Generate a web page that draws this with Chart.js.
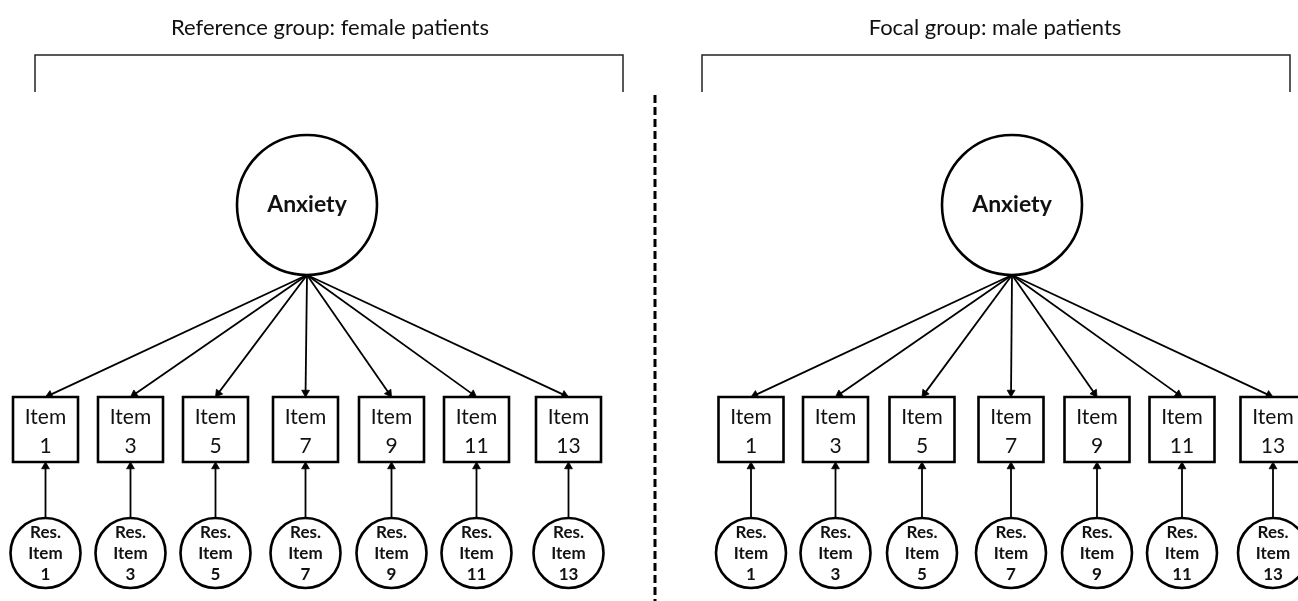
<!DOCTYPE html>
<html><head><meta charset="utf-8">
<script src="https://cdn.jsdelivr.net/npm/chart.js@4/dist/chart.umd.min.js"></script>
<style>html,body{margin:0;padding:0;background:#fff;overflow:hidden}#wrap{width:1298px;height:601px}</style>
</head><body><div id="wrap"><canvas id="c" width="1298" height="601"></canvas></div>
<script>
// ---- data ----
const groupTitles = ['Reference group: female patients', 'Focal group: male patients'];
const titleX = [330, 995];
const titleY = 28;
const latentLabel = 'Anxiety';
const latentX = [307, 1012];
const latentY = 205;
const itemNumbers = [1, 3, 5, 7, 9, 11, 13];
const itemXLeft = [45.5, 130.5, 215.5, 305.5, 391.5, 476.5, 568.5];
const itemXRight = [751, 835.5, 922, 1011, 1097, 1182, 1273];
const itemY = 429.5;
const residualY = 553;
const bracketLeftX = [35, 702];
const bracketRightX = [623, 1290];
const bracketTopY = 55;
const bracketBottomY = 92;
const dividerX = 655;
const dividerY = [95, 601];

// ---- sizes (pixels) ----
const LATENT_R = 70, BOX_HALF = 32.5, RES_R = 35, ARROW_R = 4.5;
const INK = '#000';

const itemX = [itemXLeft, itemXRight];
const datasets = [];

function edge(x1, y1, x2, y2) {
  const dx = x2 - x1, dy = y2 - y1, len = Math.hypot(dx, dy);
  const ux = dx / len, uy = dy / len;
  const rot = Math.atan2(dx, -dy) * 180 / Math.PI;
  datasets.push({
    type: 'scatter', showLine: true, order: 0,
    data: [{x: x1, y: y1}, {x: x2 - ux * ARROW_R, y: y2 - uy * ARROW_R}],
    borderColor: INK, borderWidth: 1.8,
    pointStyle: 'triangle', pointRadius: [0, ARROW_R], pointRotation: [0, rot],
    pointBackgroundColor: INK, pointBorderColor: INK, pointBorderWidth: 0.8
  });
}
for (let g = 0; g < 2; g++) {
  itemX[g].forEach(ix => {
    edge(latentX[g], latentY + LATENT_R, ix, itemY - BOX_HALF);
    edge(ix, residualY - RES_R, ix, itemY + BOX_HALF);
  });
  datasets.push({
    type: 'scatter', showLine: true, order: 2,
    data: [{x: bracketLeftX[g], y: bracketBottomY}, {x: bracketLeftX[g], y: bracketTopY},
           {x: bracketRightX[g], y: bracketTopY}, {x: bracketRightX[g], y: bracketBottomY}],
    borderColor: '#222', borderWidth: 1.5, pointRadius: 0
  });
}
datasets.push({
  type: 'scatter', showLine: true, order: 2,
  data: [{x: dividerX, y: dividerY[0]}, {x: dividerX, y: dividerY[1]}],
  borderColor: INK, borderWidth: 3, borderDash: [8, 4], pointRadius: 0
});
datasets.push({
  type: 'scatter', order: 1,
  data: latentX.map(x => ({x, y: latentY})),
  pointStyle: 'circle', pointRadius: LATENT_R, pointBorderWidth: 2.6,
  pointBorderColor: INK, pointBackgroundColor: '#fff'
});
datasets.push({
  type: 'scatter', order: 1,
  data: itemX.flat().map(x => ({x, y: itemY})),
  pointStyle: 'rect', pointRadius: BOX_HALF / Math.SQRT1_2, pointBorderWidth: 2.6,
  pointBorderColor: INK, pointBackgroundColor: '#fff'
});
datasets.push({
  type: 'scatter', order: 1,
  data: itemX.flat().map(x => ({x, y: residualY})),
  pointStyle: 'circle', pointRadius: RES_R, pointBorderWidth: 2.6,
  pointBorderColor: INK, pointBackgroundColor: '#fff'
});

const FONT = 'Lato, "Open Sans", sans-serif';
const textPlugin = {
  id: 'diagramText',
  afterDatasetsDraw(chart) {
    const {ctx, scales: {x, y}} = chart;
    ctx.save();
    ctx.fillStyle = '#111';
    ctx.textAlign = 'center';
    ctx.textBaseline = 'middle';
    for (let g = 0; g < 2; g++) {
      ctx.font = '22px ' + FONT;
      ctx.fillText(groupTitles[g], x.getPixelForValue(titleX[g]), y.getPixelForValue(titleY));
      ctx.font = 'bold 23px ' + FONT;
      ctx.fillText(latentLabel, x.getPixelForValue(latentX[g]), y.getPixelForValue(latentY));
      itemX[g].forEach((ix, i) => {
        const px = x.getPixelForValue(ix);
        ctx.font = '21px ' + FONT;
        ctx.fillText('Item', px, y.getPixelForValue(itemY) - 12);
        ctx.fillText(String(itemNumbers[i]), px, y.getPixelForValue(itemY) + 16.5);
        ctx.font = 'bold 17px ' + FONT;
        const ry = y.getPixelForValue(residualY);
        ctx.fillText('Res.', px, ry - 20.5);
        ctx.fillText('Item', px, ry + 1);
        ctx.fillText(String(itemNumbers[i]), px, ry + 21.5);
      });
    }
    ctx.restore();
  }
};

new Chart(document.getElementById('c'), {
  type: 'scatter',
  data: {datasets},
  options: {
    responsive: false, animation: false, devicePixelRatio: 1, events: [],
    layout: {padding: 0, autoPadding: false},
    plugins: {legend: {display: false}, tooltip: {enabled: false}, title: {display: false}},
    scales: {
      x: {type: 'linear', min: 0, max: 1298, display: false},
      y: {type: 'linear', min: 0, max: 601, reverse: true, display: false}
    }
  },
  plugins: [textPlugin]
});
</script></body></html>
